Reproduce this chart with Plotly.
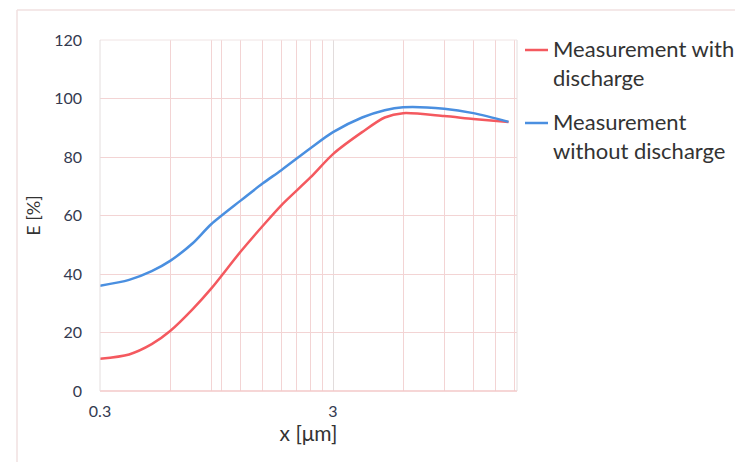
import plotly.graph_objects as go

x_red = [0.3, 0.4, 0.5, 0.6, 0.75, 0.9, 1.2, 1.5, 1.8, 2.4, 3.0, 4.0, 5.0, 6.0, 9.0, 12.0, 17.0]
y_red = [11, 12.5, 16, 20.5, 28, 35, 47.5, 56.5, 63.5, 73, 81, 88.5, 93.5, 95, 94, 93, 92]

x_blue = [0.3, 0.4, 0.5, 0.6, 0.75, 0.9, 1.2, 1.5, 1.8, 2.4, 3.0, 4.0, 5.0, 6.0, 9.0, 12.0, 17.0]
y_blue = [36, 38, 41, 44.5, 50.5, 57, 65, 71, 75.5, 83, 88.5, 93.5, 96, 97, 96.5, 95, 92]

names = ["Measurement with<br>discharge", "Measurement<br>without discharge"]
colors = ["#f4595f", "#4a8fe0"]

major_x = [0.3, 3]
minor_x = [0.6, 0.9, 1.0, 1.2, 1.5, 1.8, 2.1, 2.4, 2.7, 6, 9, 12, 15, 18]
y_ticks = [0, 20, 40, 60, 80, 100, 120]

fig = go.Figure()
fig.add_trace(go.Scatter(x=x_red, y=y_red, mode="lines",
                         line=dict(color=colors[0], width=2.5, shape="spline", smoothing=0.8), name=names[0]))
fig.add_trace(go.Scatter(x=x_blue, y=y_blue, mode="lines",
                         line=dict(color=colors[1], width=2.5, shape="spline", smoothing=0.8), name=names[1]))

font = "Lato, 'Open Sans', sans-serif"
fig.update_layout(
    width=735, height=462,
    margin=dict(l=100, r=218, t=40, b=71),
    paper_bgcolor="white", plot_bgcolor="white",
    showlegend=False,
    font=dict(family=font, color="#383838"),
    xaxis=dict(
        type="log", range=[-0.5229, 1.2668],
        tickvals=major_x, ticktext=["0.3", "3"],
        showgrid=True, gridcolor="#e2dcdc", gridwidth=1,
        minor=dict(tickvals=minor_x, showgrid=True, gridcolor="#f3d4d4", gridwidth=1, ticks=""),
        ticks="", tickfont=dict(size=16, color="#343a50"), ticklabelstandoff=9,
        title=dict(text="x [μm]", font=dict(size=21, color="#333333"), standoff=2),
        showline=False, zeroline=False,
    ),
    yaxis=dict(
        range=[0, 120], tickvals=y_ticks,
        showgrid=True, gridcolor="#f3d4d4", gridwidth=1,
        ticks="", tickfont=dict(size=16, color="#343a50"), ticklabelstandoff=17,
        title=dict(text="E [%]", font=dict(size=18, color="#333333"), standoff=8),
        zeroline=False, showline=False,
    ),
)

# plot area border lines
fig.add_shape(type="line", xref="paper", yref="paper", x0=0, x1=1, y0=0, y1=0, line=dict(color="#f3c8c8", width=1.5))
fig.add_shape(type="line", xref="paper", yref="paper", x0=1, x1=1, y0=0, y1=1, line=dict(color="#e4dede", width=1))
fig.add_shape(type="line", xref="paper", yref="paper", x0=0, x1=1, y0=1, y1=1, line=dict(color="#f0e4e4", width=1))
fig.add_shape(type="line", xref="paper", yref="paper", x0=0, x1=0, y0=0, y1=1, line=dict(color="#e4dede", width=1))

# outer chart frame
fig.add_shape(type="line", xref="paper", yref="paper", x0=(17-100)/417, x1=(735-100)/417,
              y0=(391-10)/351, y1=(391-10)/351, line=dict(color="#f0e0e0", width=1.5))
fig.add_shape(type="line", xref="paper", yref="paper", x0=(17-100)/417, x1=(17-100)/417,
              y0=(391-10)/351, y1=(391-462)/351, line=dict(color="#f0e0e0", width=1.5))

# manual legend
leg_y = [(391-50)/351, (391-123)/351]
for i in range(2):
    fig.add_shape(type="line", xref="paper", yref="paper", x0=(525-100)/417, x1=(548-100)/417,
                  y0=leg_y[i], y1=leg_y[i], line=dict(color=colors[i], width=2.5))
    fig.add_annotation(xref="paper", yref="paper", x=(551-100)/417, y=leg_y[i] + 17/351,
                       text=names[i], showarrow=False, xanchor="left", yanchor="top", align="left",
                       font=dict(size=22, color="#333333", family=font))

fig.write_html("out.html")
